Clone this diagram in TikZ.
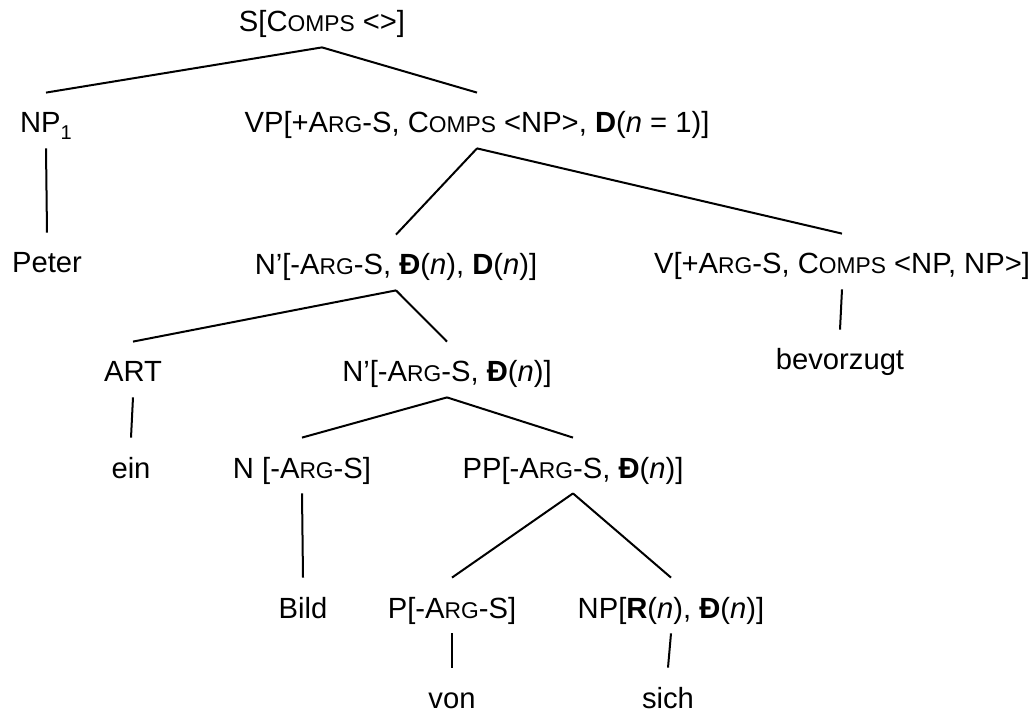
\documentclass[tikz,border=0pt]{standalone}
\usepackage{fontspec}
\setmainfont{Liberation Sans}
\usepackage{tikz}
\usetikzlibrary{calc}

\newcommand{\lowcaps}[1]{{\fontsize{11.4}{13}\selectfont #1}}
\newcommand{\Arg}{A\lowcaps{RG}}
\newcommand{\Comps}{C\lowcaps{OMPS}}
\newcommand{\Dcut}{\textbf{Đ}}

\begin{document}
\begin{tikzpicture}[
  x=0.5pt, y=-0.5pt,
  cat/.style={anchor=base, inner sep=0pt, text height=20pt, text depth=7.5pt,
    font=\fontsize{14.6}{17}\selectfont},
  leaf/.style={cat, text depth=0pt},
  branch/.style={line width=1pt, black},
]
  \useasboundingbox (0,0) rectangle (1033,716);

  % Top
  \node[cat] (S) at (322,32) {S[\Comps{} <>]};

  % Level 1
  \node[cat] (NP) at (46,133) {NP\raisebox{-0.45ex}{\fontsize{10}{10}\selectfont 1}};
  \node[cat] (VP) at (477,133) {VP[+\Arg-S, \Comps{} <NP>, \textbf{D}(\textit{n} = 1)]};

  % Level 2
  \node[cat] (peter) at (47,273) {Peter};
  \node[cat] (Nbar) at (396,275) {N’[-\Arg-S, \Dcut(\textit{n}), \textbf{D}(\textit{n})]};
  \node[cat] (V) at (842,274) {V[+\Arg-S, \Comps{} <NP, NP>]};

  % Level 3
  \node[cat] (art) at (133,382) {ART};
  \node[cat] (Nbarb) at (447,382) {N’[-\Arg-S, \Dcut(\textit{n})]};
  \node[cat] (verb) at (840,370) {bevorzugt};

  % Level 4
  \node[cat] (ein) at (131,478) {ein};
  \node[cat] (N) at (302,478) {N [-\Arg-S]};
  \node[cat] (PP) at (573,478) {PP[-\Arg-S, \Dcut(\textit{n})]};

  % Level 5
  \node[cat] (bild) at (303,618) {Bild};
  \node[cat] (P) at (452,618) {P[-\Arg-S]};
  \node[cat] (NPr) at (671,618) {NP[\textbf{R}(\textit{n}), \Dcut(\textit{n})]};

  % Level 6
  \node[leaf] (von) at (452,708) {von};
  \node[leaf] (sich) at (668,708) {sich};

  % Branches
  \foreach \a/\b in {S/NP, S/VP, NP/peter, VP/Nbar, VP/V, V/verb,
                     Nbar/art, Nbar/Nbarb, art/ein, Nbarb/N, Nbarb/PP,
                     N/bild, PP/P, PP/NPr, P/von, NPr/sich} {
    \draw[branch] (\a.south) -- (\b.north);
  }
\end{tikzpicture}
\end{document}
